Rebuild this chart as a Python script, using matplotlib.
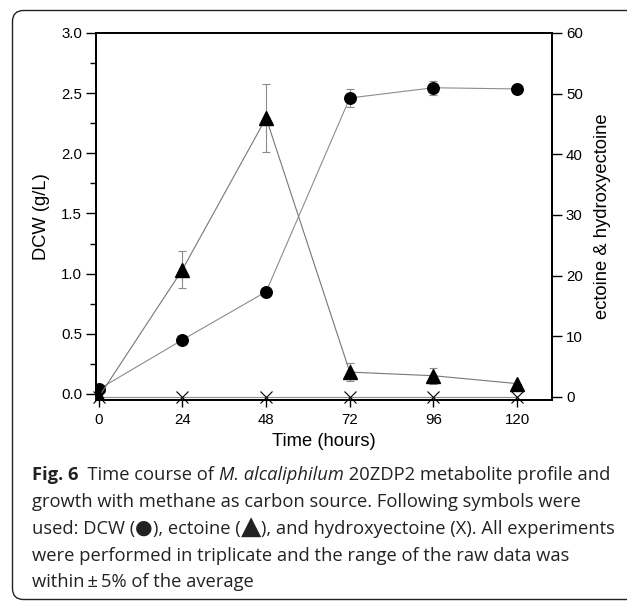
import matplotlib
matplotlib.use("Agg")
import matplotlib.pyplot as plt
from matplotlib.patches import PathPatch
from matplotlib.path import Path
from matplotlib.ticker import MultipleLocator

# ---- data ----
time_h = [0, 24, 48, 72, 96, 120]
dcw = [0.04, 0.45, 0.85, 2.46, 2.545, 2.535]
dcw_err = [0.0, 0.0, 0.0, 0.075, 0.06, 0.0]
ectoine = [0.0, 21.0, 46.0, 4.1, 3.5, 2.2]
ectoine_err = [0.0, 3.0, 5.6, 1.5, 1.3, 0.0]
hydroxyectoine = [0.0, 0.0, 0.0, 0.0, 0.0, 0.0]
x_ticks = [0, 24, 48, 72, 96, 120]

W, H = 627, 601
fig = plt.figure(figsize=(W / 100, H / 100), dpi=100)

# open rounded frame (pixel coords, y down) -> figure fraction
def P(x, y):
    return (x / W, 1 - y / H)

r = 11
xl, yt, yb, xr = 12.5, 10.5, 599.5, 640
verts = [P(xr, yt), P(xl + r, yt), P(xl, yt), P(xl, yt + r),
         P(xl, yb - r), P(xl, yb), P(xl + r, yb), P(xr, yb)]
codes = [Path.MOVETO, Path.LINETO, Path.CURVE3, Path.CURVE3,
         Path.LINETO, Path.CURVE3, Path.CURVE3, Path.LINETO]
frame = PathPatch(Path(verts, codes), transform=fig.transFigure, fill=False,
                  edgecolor="#222222", linewidth=1.0, clip_on=False)
fig.patches.append(frame)

L, R, T, B = 96, 552, 33, 400
ax = fig.add_axes([L / W, 1 - B / H, (R - L) / W, (B - T) / H])
ax2 = ax.twinx()

tick_font = dict(family="Liberation Sans", size=10.8)
lab_font = dict(family="Liberation Sans", size=13.2)
gray = "#8c8c8c"

ax.errorbar(time_h, dcw, yerr=dcw_err, color=gray, lw=0.8, marker="o",
            ms=8.3, mfc="black", mec="black", ecolor=gray, elinewidth=0.8,
            capsize=3, capthick=0.8, zorder=3)
ax2.errorbar(time_h, ectoine, yerr=ectoine_err, color="#777777", lw=0.8, marker="^",
             ms=10, mfc="black", mec="black", ecolor=gray, elinewidth=0.8,
             capsize=3, capthick=0.8, zorder=3)
ax2.plot(time_h, hydroxyectoine, color=gray, lw=0.8, marker="x", ms=9,
         mec="black", mew=0.8, zorder=3, clip_on=False)

ax.set_xticks(x_ticks)
ax.yaxis.set_major_locator(MultipleLocator(0.5))
ax.yaxis.set_minor_locator(MultipleLocator(0.25))
ax2.yaxis.set_major_locator(MultipleLocator(10))

ax.tick_params(axis="x", direction="out", length=5, width=1, pad=4)
ax.tick_params(axis="y", which="major", direction="out", length=7, width=1, pad=3)
ax.tick_params(axis="y", which="minor", direction="out", length=4, width=1)
ax2.tick_params(axis="y", direction="out", length=7, width=1, pad=3)

ax.set_xlim(-0.8, 130)
ax.set_xticklabels([str(v) for v in x_ticks], fontdict=tick_font)
ax.set_yticks([0, 0.5, 1.0, 1.5, 2.0, 2.5, 3.0])
ax.set_yticklabels(["0.0", "0.5", "1.0", "1.5", "2.0", "2.5", "3.0"], fontdict=tick_font)
ax2.set_yticks([0, 10, 20, 30, 40, 50, 60])
ax2.set_yticklabels(["0", "10", "20", "30", "40", "50", "60"], fontdict=tick_font)
ax.set_ylim(-0.05, 3.0)
ax2.set_ylim(-0.5, 60)

for a in (ax, ax2):
    for s in a.spines.values():
        s.set_linewidth(1.3)

ax.set_xlabel("Time (hours)", fontdict=lab_font, labelpad=5)
ax.set_ylabel("DCW (g/L)", fontdict=lab_font, labelpad=8)
ax2.set_ylabel("ectoine & hydroxyectoine", fontdict=lab_font, rotation=90, labelpad=8)

# caption
cap_fam = ["Open Sans", "DejaVu Sans"]
cs = 13.2
x0 = 32
lines_y = [480, 507, 534, 561, 587]
color = "#222222"
renderer = fig.canvas.get_renderer()


def line(y_px, pieces):
    x = x0
    for txt, kw in pieces:
        t = fig.text(x / W, 1 - y_px / H, txt, family=cap_fam,
                     size=kw.get("size", cs), style=kw.get("style", "normal"),
                     weight=kw.get("weight", "normal"), color=color,
                     va="baseline", ha="left")
        bb = t.get_window_extent(renderer=renderer)
        x = bb.x1


line(lines_y[0], [("Fig. 6", {"weight": "bold"}),
                  ("  Time course of ", {}),
                  ("M. alcaliphilum", {"style": "italic"}),
                  (" 20ZDP2 metabolite profile and", {})])
line(lines_y[1], [("growth with methane as carbon source. Following symbols were", {})])
line(lines_y[2], [("used: DCW (", {}),
                  ("\u25CF", {"size": 14.5}),
                  ("), ectoine (", {}),
                  ("\u25B2", {"size": 19}),
                  ("), and hydroxyectoine (X). All experiments", {})])
line(lines_y[3], [("were performed in triplicate and the range of the raw data was", {})])
line(lines_y[4], [("within\u2009\u00B1\u20095% of the average", {})])

fig.savefig("out.png", dpi=100)
